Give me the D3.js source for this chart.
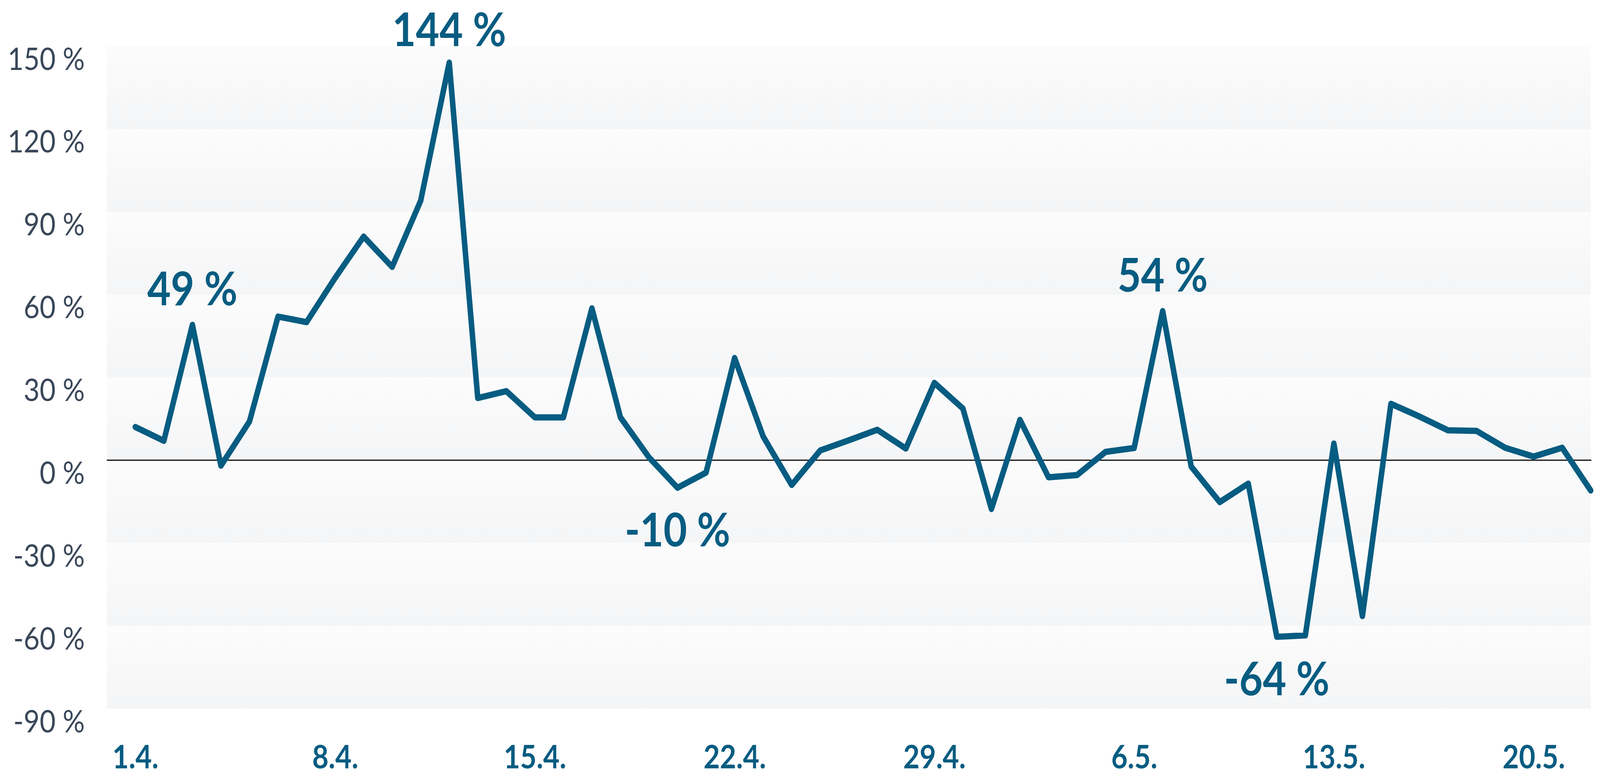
<!DOCTYPE html>
<html>
<head>
<meta charset="utf-8">
<title>Veränderung in %</title>
<script src="https://cdn.jsdelivr.net/npm/d3@7/dist/d3.min.js"></script>
<style>
  html, body { margin: 0; padding: 0; background: #fff; overflow: hidden; }
  svg { display: block; width: 100vw; height: 100vh; }
  text { font-family: Lato, "Noto Sans", sans-serif; }
</style>
</head>
<body>
<div id="chart"></div>
<script>
// daily dates, 1 April - 22 May
var days = ["1.4.","2.4.","3.4.","4.4.","5.4.","6.4.","7.4.","8.4.","9.4.","10.4.",
  "11.4.","12.4.","13.4.","14.4.","15.4.","16.4.","17.4.","18.4.","19.4.","20.4.",
  "21.4.","22.4.","23.4.","24.4.","25.4.","26.4.","27.4.","28.4.","29.4.","30.4.",
  "1.5.","2.5.","3.5.","4.5.","5.5.","6.5.","7.5.","8.5.","9.5.","10.5.",
  "11.5.","12.5.","13.5.","14.5.","15.5.","16.5.","17.5.","18.5.","19.5.","20.5.",
  "21.5.","22.5."];

// change in percent
var values = [12, 7, 49, -2, 14, 52, 50, 66, 81, 70,
  94, 144, 22.5, 25, 15.5, 15.5, 55, 15.5, 1, -10,
  -4.5, 37, 8.6, -9, 3.5, 7.2, 11, 4.2, 28, 18.7,
  -17.7, 14.6, -6.2, -5.4, 3, 4.4, 54, -2.3, -15.2, -8.5,
  -64, -63.5, 6, -56.5, 20.4, 15.8, 10.8, 10.6, 4.5, 1.3,
  4.5, -11];

var yTicks = [-90, -60, -30, 0, 30, 60, 90, 120, 150];
var xTickDays = ["1.4.", "8.4.", "15.4.", "22.4.", "29.4.", "6.5.", "13.5.", "20.5."];

// points that get a value label
var callouts = [2, 11, 19, 36, 40];

// drawn in a 4645 x 1983 frame, stretched to fill the window
var W = 4645, H = 1983;
var blue = "#075c81";

var svg = d3.select("#chart").append("svg")
  .attr("viewBox", "0 0 " + W + " " + H)
  .attr("preserveAspectRatio", "none");

var x = d3.scaleLinear().domain([-1, days.length - 1]).range([310, 4618]);
var y = d3.scaleLinear().domain([-90, 150]).range([1813, 118]);

// background bands with soft gradient
var grad = svg.append("defs").append("linearGradient")
  .attr("id", "band").attr("x1", 0).attr("y1", 0).attr("x2", 0).attr("y2", 1);
grad.append("stop").attr("offset", "0%").attr("stop-color", "#fcfcfd");
grad.append("stop").attr("offset", "100%").attr("stop-color", "#f4f5f6");

var bands = d3.pairs(yTicks);
svg.append("g").selectAll("rect").data(bands).join("rect")
  .attr("x", x.range()[0])
  .attr("width", x.range()[1] - x.range()[0])
  .attr("y", d => y(d[1]))
  .attr("height", d => y(d[0]) - y(d[1]))
  .attr("fill", "url(#band)");

// y axis labels
var yAxis = d3.axisLeft(y).tickValues(yTicks)
  .tickFormat(d => d + " %").tickSize(0).tickPadding(0);
var gy = svg.append("g").attr("transform", "translate(246,0)").call(yAxis);
gy.select(".domain").remove();
gy.selectAll("text")
  .attr("dy", "0.75em")
  .attr("font-size", 80)
  .attr("font-family", "Lato, sans-serif")
  .attr("fill", "#3a4759");

// x axis labels
var xAxis = d3.axisBottom(x)
  .tickValues(xTickDays.map(d => days.indexOf(d)))
  .tickFormat(i => days[i]).tickSize(0).tickPadding(0);
var gx = svg.append("g").attr("transform", "translate(0,1966)").call(xAxis);
gx.select(".domain").remove();
gx.selectAll("text")
  .attr("y", 0).attr("dy", 0)
  .attr("font-size", 82)
  .attr("font-weight", 700)
  .attr("font-family", "Lato, sans-serif")
  .attr("fill", blue);

// zero line
svg.append("line")
  .attr("x1", x.range()[0]).attr("x2", x.range()[1] + 2)
  .attr("y1", y(0)).attr("y2", y(0))
  .attr("stroke", "#111").attr("stroke-width", 3);

// the series
var line = d3.line().x((d, i) => x(i)).y(d => y(d));
svg.append("path")
  .datum(values)
  .attr("d", line)
  .attr("fill", "none")
  .attr("stroke", blue)
  .attr("stroke-width", 16)
  .attr("stroke-linejoin", "round")
  .attr("stroke-linecap", "round");

// value labels (kept inside the frame at the top)
svg.append("g").selectAll("text").data(callouts).join("text")
  .attr("x", i => x(i))
  .attr("y", i => values[i] >= 0 ? Math.max(y(values[i]) - 50, 118) : y(values[i]) + 150)
  .attr("text-anchor", "middle")
  .attr("font-size", 118)
  .attr("font-weight", 700)
  .attr("font-family", "Lato, sans-serif")
  .attr("fill", blue)
  .text(i => Math.round(values[i]) + " %");
</script>
</body>
</html>
